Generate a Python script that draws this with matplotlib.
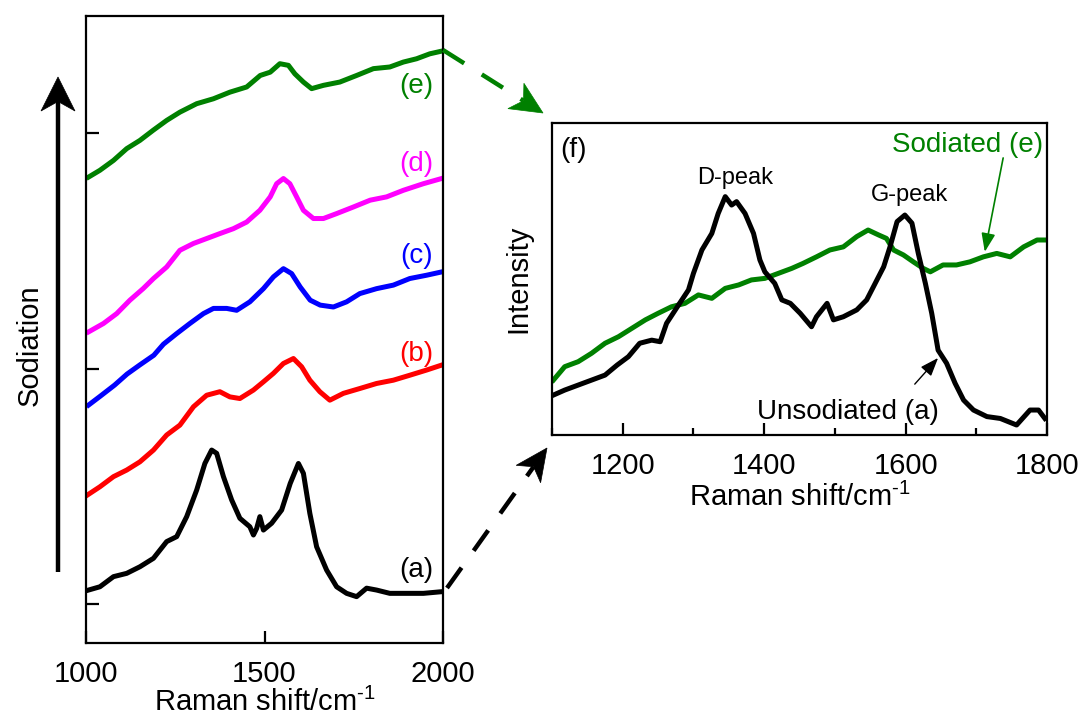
import matplotlib
matplotlib.use("Agg")
import matplotlib.pyplot as plt
from matplotlib.patches import Polygon
from matplotlib.lines import Line2D
import numpy as np

plt.rcParams['font.family'] = ['Liberation Sans', 'DejaVu Sans']
plt.rcParams['mathtext.fontset'] = 'custom'
plt.rcParams['mathtext.rm'] = 'Liberation Sans'
plt.rcParams['lines.scale_dashes'] = False

# ---- left panel: stacked spectra (a)-(e), offset intensity ----
wn_a = [1007, 1039, 1077, 1114, 1151, 1189, 1226, 1254, 1282, 1310, 1333, 1352, 1366, 1385,
        1408, 1431, 1459, 1469, 1478, 1487, 1497, 1520, 1548, 1572, 1595, 1609, 1627, 1646,
        1674, 1702, 1730, 1758, 1786, 1814, 1851, 1898, 1945, 1996]
int_a = [0.059, 0.073, 0.116, 0.130, 0.158, 0.194, 0.265, 0.286, 0.371, 0.484, 0.597, 0.654,
         0.640, 0.541, 0.442, 0.364, 0.328, 0.293, 0.321, 0.371, 0.314, 0.343, 0.399, 0.512,
         0.597, 0.555, 0.385, 0.243, 0.144, 0.073, 0.045, 0.031, 0.067, 0.059, 0.045, 0.045,
         0.045, 0.052]

wn_b = [1004, 1039, 1077, 1114, 1151, 1189, 1226, 1263, 1301, 1338, 1375, 1403, 1431, 1469,
        1497, 1525, 1553, 1581, 1604, 1627, 1655, 1683, 1721, 1768, 1814, 1861, 1907, 1954, 1996]
int_b = [0.463, 0.498, 0.541, 0.569, 0.604, 0.654, 0.718, 0.760, 0.838, 0.887, 0.902, 0.880,
         0.873, 0.909, 0.944, 0.980, 1.022, 1.043, 1.008, 0.951, 0.902, 0.866, 0.895, 0.916,
         0.937, 0.951, 0.972, 0.994, 1.015]

wn_c = [1007, 1040, 1080, 1115, 1150, 1190, 1217, 1254, 1291, 1329, 1357, 1394, 1422, 1459,
        1497, 1525, 1553, 1576, 1600, 1628, 1656, 1693, 1730, 1767, 1814, 1861, 1907, 1954, 1996]
int_c = [0.845, 0.883, 0.930, 0.977, 1.015, 1.057, 1.104, 1.149, 1.192, 1.234, 1.256, 1.256,
         1.248, 1.284, 1.340, 1.390, 1.425, 1.404, 1.347, 1.291, 1.270, 1.262, 1.284, 1.319,
         1.340, 1.355, 1.383, 1.397, 1.411]

wn_d = [1007, 1049, 1086, 1123, 1160, 1189, 1226, 1263, 1301, 1338, 1375, 1413, 1450, 1487,
        1516, 1534, 1553, 1571, 1590, 1609, 1637, 1665, 1702, 1749, 1796, 1842, 1889, 1945, 1996]
int_d = [1.156, 1.192, 1.234, 1.291, 1.340, 1.383, 1.432, 1.503, 1.532, 1.553, 1.574, 1.595,
         1.623, 1.673, 1.730, 1.786, 1.808, 1.786, 1.730, 1.673, 1.638, 1.638, 1.659, 1.687,
         1.716, 1.730, 1.758, 1.786, 1.808]

wn_e = [1007, 1039, 1077, 1114, 1151, 1188, 1226, 1263, 1310, 1357, 1403, 1450, 1488, 1516,
        1543, 1567, 1585, 1609, 1632, 1665, 1711, 1758, 1805, 1851, 1889, 1926, 1963, 1998]
int_e = [1.814, 1.843, 1.885, 1.935, 1.970, 2.013, 2.055, 2.090, 2.126, 2.147, 2.175, 2.197,
         2.246, 2.260, 2.296, 2.289, 2.253, 2.218, 2.190, 2.204, 2.218, 2.246, 2.275, 2.282,
         2.303, 2.317, 2.338, 2.350]

labels = ['(a)', '(b)', '(c)', '(d)', '(e)']
label_y = [0.144, 1.062, 1.478, 1.868, 2.202]
colors = ['black', '#ff0000', '#0000ff', '#ff00ff', '#008000']

# ---- right panel (f): unsodiated (a) vs sodiated (e) ----
wn_f_a = [1102, 1118, 1137, 1156, 1175, 1192, 1208, 1224, 1241, 1253, 1262, 1279, 1293, 1300,
          1312, 1326, 1335, 1345, 1354, 1361, 1373, 1385, 1394, 1401, 1415, 1425, 1437, 1451,
          1467, 1474, 1489, 1498, 1512, 1531, 1545, 1557, 1569, 1578, 1588, 1599, 1609, 1618,
          1628, 1637, 1646, 1658, 1670, 1682, 1696, 1715, 1734, 1757, 1776, 1788, 1797]
int_f_a = [0.128, 0.144, 0.160, 0.176, 0.192, 0.224, 0.251, 0.294, 0.304, 0.299, 0.358, 0.417,
           0.465, 0.518, 0.593, 0.646, 0.710, 0.764, 0.737, 0.748, 0.710, 0.646, 0.561, 0.523,
           0.486, 0.433, 0.422, 0.390, 0.347, 0.379, 0.422, 0.369, 0.379, 0.401, 0.433, 0.486,
           0.539, 0.603, 0.684, 0.705, 0.679, 0.582, 0.486, 0.390, 0.272, 0.230, 0.166, 0.112,
           0.080, 0.059, 0.053, 0.032, 0.080, 0.080, 0.053]

wn_f_e = [1102, 1118, 1137, 1156, 1175, 1194, 1213, 1232, 1250, 1269, 1288, 1307, 1326, 1345,
          1364, 1382, 1401, 1420, 1439, 1455, 1474, 1493, 1512, 1531, 1547, 1562, 1573, 1583,
          1597, 1611, 1625, 1635, 1653, 1672, 1691, 1710, 1729, 1748, 1767, 1786, 1797]
int_f_e = [0.176, 0.219, 0.235, 0.262, 0.294, 0.315, 0.342, 0.369, 0.390, 0.411, 0.422, 0.449,
           0.438, 0.470, 0.481, 0.497, 0.502, 0.518, 0.534, 0.550, 0.571, 0.593, 0.603, 0.636,
           0.657, 0.641, 0.630, 0.593, 0.577, 0.555, 0.534, 0.523, 0.545, 0.545, 0.555, 0.571,
           0.582, 0.571, 0.603, 0.625, 0.625]

W, H = 1083, 719
fig = plt.figure(figsize=(W / 100, H / 100), dpi=100)
xlab = 'Raman shift/cm$^{\\text{-1}}$'


def fp(x, y):
    # figure pixel (from top-left) -> figure fraction
    return x / W, 1 - y / H


def arrow(x0, y0, x1, y1, color, lw, hl, hw, dashed=False):
    t0 = np.array(fp(x0, y0)) * [W, H]
    t1 = np.array(fp(x1, y1)) * [W, H]
    u = (t1 - t0) / np.linalg.norm(t1 - t0)
    n = np.array([-u[1], u[0]])
    notch = t1 - 0.72 * hl * u
    head = [t1, t1 - hl * u + hw * n, notch, t1 - hl * u - hw * n]
    head = [(p[0] / W, p[1] / H) for p in head]
    ls = (0, (18, 15)) if dashed else '-'
    fig.add_artist(Line2D([t0[0] / W, notch[0] / W], [t0[1] / H, notch[1] / H],
                          transform=fig.transFigure, color=color, lw=lw, ls=ls,
                          solid_capstyle='butt', dash_capstyle='butt'))
    fig.add_artist(Polygon(head, closed=True, transform=fig.transFigure,
                           facecolor=color, edgecolor=color, lw=0.5))


# left axes
ax1 = fig.add_axes([86 / W, 1 - 643 / H, (443 - 86) / W, (643 - 15.7) / H])
for wn, it, c in zip([wn_a, wn_b, wn_c, wn_d, wn_e], [int_a, int_b, int_c, int_d, int_e], colors):
    ax1.plot(wn, it, color=c, lw=3.6, solid_joinstyle='round')
for lab, ly, c in zip(labels, label_y, colors):
    ax1.text(1972, ly, lab, color=c, fontsize=20, ha='right', va='center')
ax1.set_xlim(1000, 2000)
ax1.set_ylim(-0.166, 2.50)
ax1.set_xticks([1000, 1500, 2000])
ax1.set_yticks([0, 1, 2])
ax1.set_yticklabels([])
ax1.tick_params(direction='in', length=9, width=1.6, labelsize=21, pad=12)
ax1.set_xlabel(xlab, fontsize=21, labelpad=0)
for s in ax1.spines.values():
    s.set_linewidth(1.6)

# right axes
ax2 = fig.add_axes([552 / W, 1 - 435 / H, (1047 - 552) / W, (435 - 123) / H])
ax2.plot(wn_f_e, int_f_e, color='#008000', lw=3.6, solid_joinstyle='round')
ax2.plot(wn_f_a, int_f_a, color='black', lw=3.6, solid_joinstyle='round')
ax2.set_xlim(1100, 1800)
ax2.set_ylim(0, 1)
ax2.set_xticks([1200, 1400, 1600, 1800])
ax2.set_xticks([1100, 1300, 1500, 1700], minor=True)
ax2.set_yticks([])
ax2.tick_params(axis='x', which='major', direction='in', length=9, width=1.6, labelsize=21, pad=12)
ax2.tick_params(axis='x', which='minor', direction='in', length=5, width=1.6)
ax2.set_xlabel(xlab, fontsize=21, labelpad=2)
ax2.set_ylabel('Intensity', fontsize=21, labelpad=14)
for s in ax2.spines.values():
    s.set_linewidth(1.6)

ax2.text(1130, 0.913, '(f)', fontsize=20, ha='center', va='center')
ax2.text(1359, 0.824, 'D-peak', fontsize=17, ha='center', va='center')
ax2.text(1606, 0.769, 'G-peak', fontsize=17, ha='center', va='center')
ax2.text(1688, 0.929, 'Sodiated (e)', fontsize=20, color='#008000', ha='center', va='center')
ax2.text(1519, 0.074, 'Unsodiated (a)', fontsize=20, ha='center', va='center')
ax2.annotate('', xy=(1712, 0.587), xytext=(1738, 0.888),
             arrowprops=dict(arrowstyle='-|>,head_length=0.8,head_width=0.3', color='#008000',
                             lw=1.2, shrinkA=0, shrinkB=0, mutation_scale=14))
ax2.annotate('', xy=(1646, 0.247), xytext=(1613, 0.163),
             arrowprops=dict(arrowstyle='-|>,head_length=0.8,head_width=0.3', color='black',
                             lw=1.0, shrinkA=0, shrinkB=0, mutation_scale=14))

# sodiation arrow and connecting dashed arrows
arrow(58, 572, 58, 77, 'black', 3.2, 34, 17)
fig.text(30 / W, 1 - 345 / H, 'Sodiation', fontsize=21, rotation=90, ha='center', va='center')
arrow(443, 50, 543, 113, '#008000', 3.2, 32, 15, dashed=True)
arrow(447, 588, 547, 448, 'black', 3.2, 32, 15, dashed=True)

fig.savefig('out.png', dpi=100)
